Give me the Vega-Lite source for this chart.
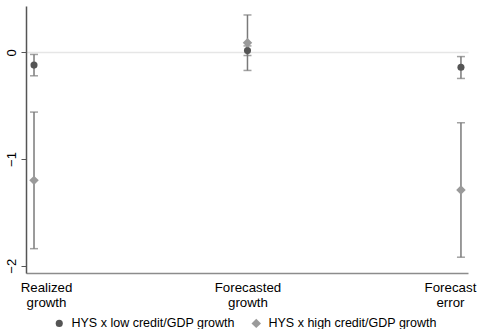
{
  "$schema": "https://vega.github.io/schema/vega-lite/v6.json",
  "width": 442,
  "height": 267,
  "autosize": {"type": "none"},
  "padding": {"left": 26, "top": 6, "right": 10, "bottom": 56},
  "background": "white",
  "config": {
    "view": {"stroke": null},
    "font": "Liberation Sans"
  },
  "data": {
    "values": [
      {"cat": 1, "series": "HYS x low credit/GDP growth", "est": -0.12, "lo": -0.22, "hi": -0.02},
      {"cat": 2, "series": "HYS x low credit/GDP growth", "est": 0.016, "lo": -0.03, "hi": 0.06},
      {"cat": 3, "series": "HYS x low credit/GDP growth", "est": -0.14, "lo": -0.245, "hi": -0.04},
      {"cat": 1, "series": "HYS x high credit/GDP growth", "est": -1.2, "lo": -1.84, "hi": -0.56},
      {"cat": 2, "series": "HYS x high credit/GDP growth", "est": 0.09, "lo": -0.17, "hi": 0.35},
      {"cat": 3, "series": "HYS x high credit/GDP growth", "est": -1.29, "lo": -1.92, "hi": -0.66}
    ]
  },
  "encoding": {
    "x": {
      "field": "cat", "type": "quantitative",
      "scale": {"domain": [0.9625, 3.033], "nice": false, "zero": false},
      "axis": {
        "title": null, "values": [1, 2, 3], "ticks": false, "grid": false,
        "domainColor": "#8c8c8c", "domainWidth": 1.5,
        "labelExpr": "datum.value == 1 ? ['Realized', 'growth'] : datum.value == 2 ? ['Forecasted', 'growth'] : ['Forecast', 'error']",
        "labelFontSize": 13.3, "labelColor": "#000000", "labelPadding": 7,
        "labelLineHeight": 15,
        "labelOffset": {"expr": "datum.value == 1 ? 12 : datum.value == 3 ? -11 : 0"}
      }
    }
  },
  "layer": [
    {
      "mark": {"type": "rule", "color": "#7a7a7a", "strokeWidth": 1.5},
      "encoding": {
        "y": {
          "field": "lo", "type": "quantitative",
          "scale": {"domain": [-2.068, 0.434], "nice": false, "zero": false},
          "axis": {
            "title": null, "values": [0, -1, -2], "format": "d",
            "labelAngle": 270, "labelAlign": "center", "labelBaseline": "bottom",
            "labelFontSize": 13, "labelColor": "#000000", "labelPadding": 3,
            "tickSize": 5, "tickColor": "#555555",
            "domainColor": "#555555", "domainWidth": 1.5,
            "grid": true, "gridColor": "#e6e6e6", "gridWidth": 1.5,
            "gridOpacity": {"expr": "datum.value == 0 ? 1 : 0"}
          }
        },
        "y2": {"field": "hi"}
      }
    },
    {
      "mark": {"type": "tick", "orient": "horizontal", "color": "#7a7a7a", "size": 8, "thickness": 1.5},
      "encoding": {"y": {"field": "lo", "type": "quantitative"}}
    },
    {
      "mark": {"type": "tick", "orient": "horizontal", "color": "#7a7a7a", "size": 8, "thickness": 1.5},
      "encoding": {"y": {"field": "hi", "type": "quantitative"}}
    },
    {
      "mark": {"type": "point", "filled": true, "opacity": 1},
      "encoding": {
        "y": {"field": "est", "type": "quantitative"},
        "color": {
          "field": "series", "type": "nominal",
          "scale": {"domain": ["HYS x low credit/GDP growth", "HYS x high credit/GDP growth"], "range": ["#555555", "#9a9a9a"]},
          "legend": {
            "title": null, "orient": "none", "direction": "horizontal",
            "legendX": 27, "legendY": 311,
            "labelFontSize": 12.5, "labelColor": "#000000", "labelLimit": 300,
            "symbolSize": 50, "columnPadding": 15, "labelOffset": 6
          }
        },
        "shape": {
          "field": "series", "type": "nominal",
          "scale": {"domain": ["HYS x low credit/GDP growth", "HYS x high credit/GDP growth"], "range": ["circle", "diamond"]}
        },
        "size": {
          "field": "series", "type": "nominal",
          "scale": {"domain": ["HYS x low credit/GDP growth", "HYS x high credit/GDP growth"], "range": [50, 90]},
          "legend": null
        }
      }
    }
  ]
}
